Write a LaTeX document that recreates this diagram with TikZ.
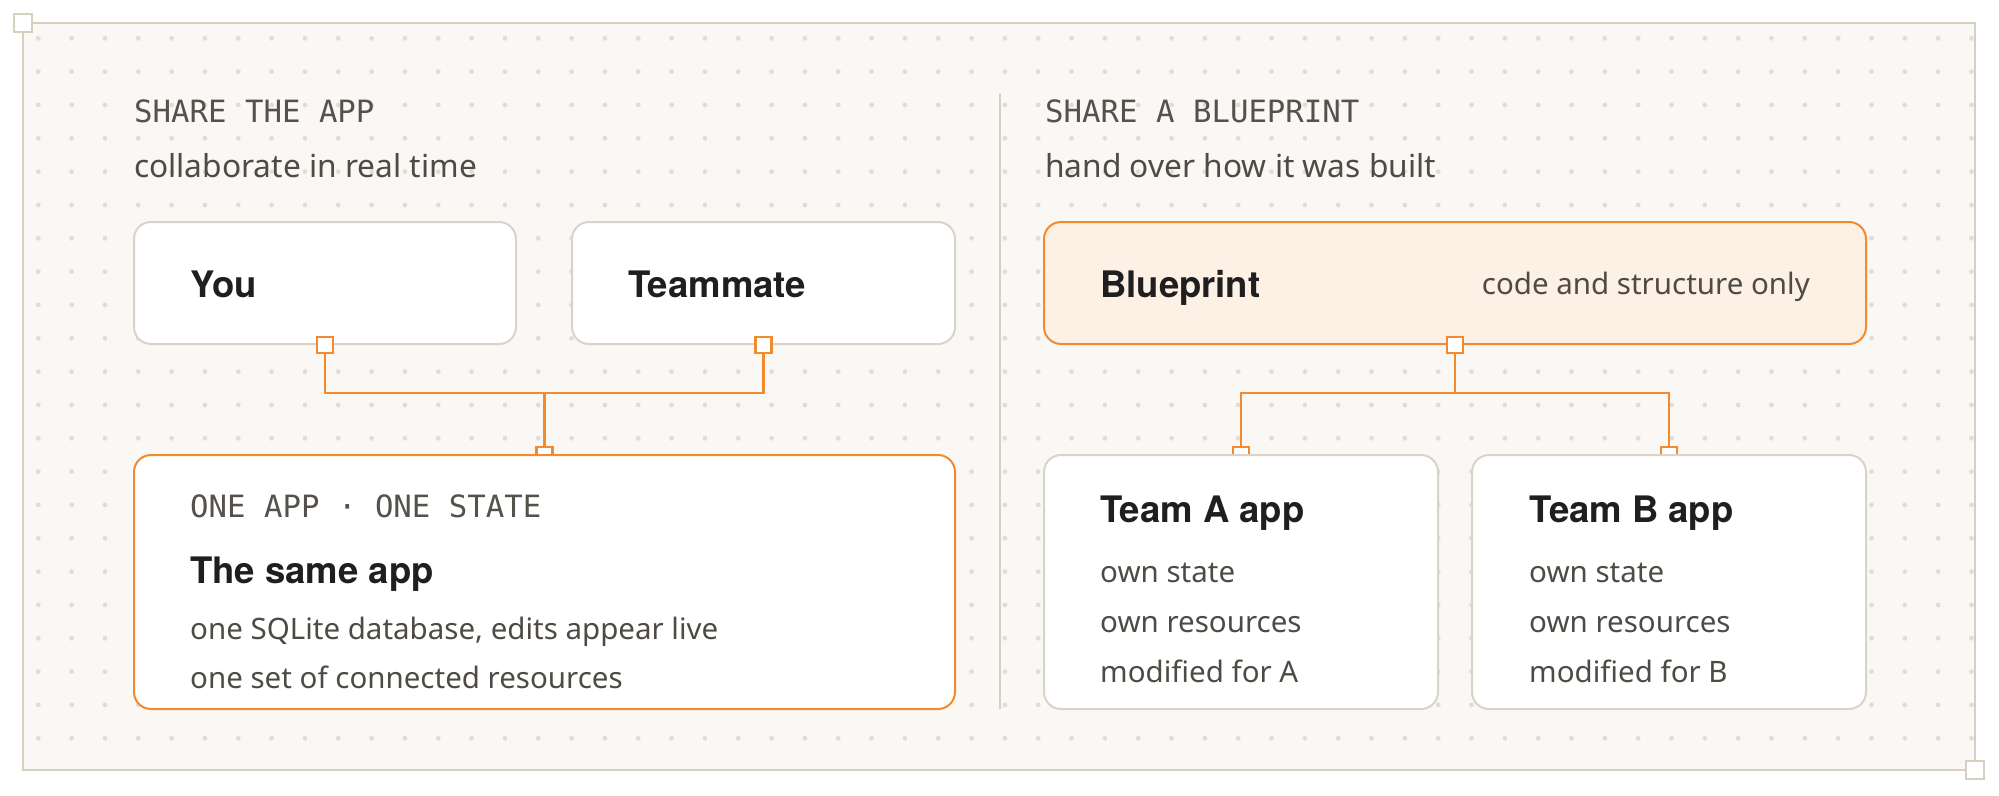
\documentclass[tikz,border=0pt]{standalone}
\usepackage{fontspec}
\setmainfont{Noto Sans}
\newfontfamily\monofont{DejaVu Sans Mono}
\newfontfamily\headfont{TeX Gyre Heros}
\usetikzlibrary{positioning,calc}
\definecolor{paper}{RGB}{250,248,245}
\definecolor{rulec}{RGB}{214,207,194}
\definecolor{dotc}{RGB}{226,220,210}
\definecolor{edgec}{RGB}{218,211,199}
\definecolor{accent}{RGB}{244,138,48}
\definecolor{accentfill}{RGB}{253,240,228}
\definecolor{ink}{RGB}{31,31,31}
\definecolor{inkgray}{RGB}{78,75,69}
\definecolor{monogray}{RGB}{85,82,76}
\begin{document}
\begin{tikzpicture}[x=1pt,y=-1pt,
  card/.style={draw=edgec,line width=2pt,fill=white,rounded corners=17pt,inner sep=0pt},
  hotcard/.style={card,draw=accent},
  port/.style={draw=accent,line width=2.5pt,fill=white,minimum size=16pt,inner sep=0pt},
  wire/.style={accent,line width=2.5pt},
  handle/.style={draw=rulec,line width=2.5pt,fill=white,minimum size=18pt,inner sep=0pt},
  kicker/.style={anchor=base west,inner sep=0pt,text=monogray,font=\monofont\fontsize{30.7}{36}\selectfont},
  lede/.style={anchor=base west,inner sep=0pt,text=inkgray,font=\fontsize{31.7}{37}\selectfont},
  heading/.style={anchor=base west,inner sep=0pt,text=ink,font=\headfont\bfseries\fontsize{36.5}{42}\selectfont},
  body/.style={anchor=base west,inner sep=0pt,text=inkgray,font=\fontsize{29.5}{35}\selectfont}]
  \useasboundingbox[fill=white] (0,0) rectangle (1999,795);
  \draw[rulec,line width=2.5pt,fill=paper] (23,23) rectangle (1975,770);
  \foreach \i in {0,...,58}
    \foreach \j in {0,...,21}
      \fill[dotc] (38.3+33.33*\i,38.3+33.33*\j) circle (2.4pt);
  \node[handle] (tl) at (23,23) {};
  \node[handle] (br) at (1975,770) {};
  \draw[rulec,line width=2pt] (1000,94) -- (1000,709);

  % share the app
  \node[kicker] (lhead) at (134,122) {SHARE THE APP};
  \node[lede] (lsub) at (134,177) {collaborate in real time};
  \node[port] (sameP) at (544.5,455) {};
  \node[hotcard,minimum width=821,minimum height=254] (same) at (544.5,582) {};
  \node[card,minimum width=382,minimum height=122] (you) at (325,283) {};
  \node[card,minimum width=383,minimum height=122] (mate) at (763.5,283) {};
  \node[port] (youP) at (you.south) {};
  \node[port] (mateP) at (mate.south) {};
  \coordinate (lj) at (544.5,393);
  \draw[wire] (youP.south) |- (lj) -| (mateP.south);
  \draw[wire] (lj) -- (sameP.north);
  \node[heading] (youT) at (190,297) {You};
  \node[heading] (mateT) at (628,297) {Teammate};
  \node[kicker] (sameK) at (190,517) {ONE APP · ONE STATE};
  \node[heading] (sameT) at (190,583) {The same app};
  \node[body] (sameA) at (190,639) {one SQLite database, edits appear live};
  \node[body] (sameB) at (190,688) {one set of connected resources};

  % share a blueprint
  \node[kicker] (rhead) at (1045,122) {SHARE A BLUEPRINT};
  \node[lede] (rsub) at (1045,177) {hand over how it was built};
  \node[port] (aP) at (1241,455) {};
  \node[port] (bP) at (1669,455) {};
  \node[card,minimum width=394,minimum height=254] (teamA) at (1241,582) {};
  \node[card,minimum width=394,minimum height=254] (teamB) at (1669,582) {};
  \node[hotcard,fill=accentfill,minimum width=822,minimum height=122] (blue) at (1455,283) {};
  \node[port] (blueP) at (blue.south) {};
  \coordinate (rj) at (1455,393);
  \draw[wire] (blueP.south) -- (rj);
  \draw[wire] (aP.north) |- (rj) -| (bP.north);
  \node[heading] (blueT) at (1100,297) {Blueprint};
  \node[body,anchor=base east] (blueN) at (1810,294) {code and structure only};
  \node[heading] (aT) at (1100,522) {Team A app};
  \node[body] (aA) at (1100,582) {own state};
  \node[body] (aB) at (1100,632) {own resources};
  \node[body] (aC) at (1100,682) {modified for A};
  \node[heading] (bT) at (1529,522) {Team B app};
  \node[body] (bA) at (1529,582) {own state};
  \node[body] (bB) at (1529,632) {own resources};
  \node[body] (bC) at (1529,682) {modified for B};
\end{tikzpicture}
\end{document}
